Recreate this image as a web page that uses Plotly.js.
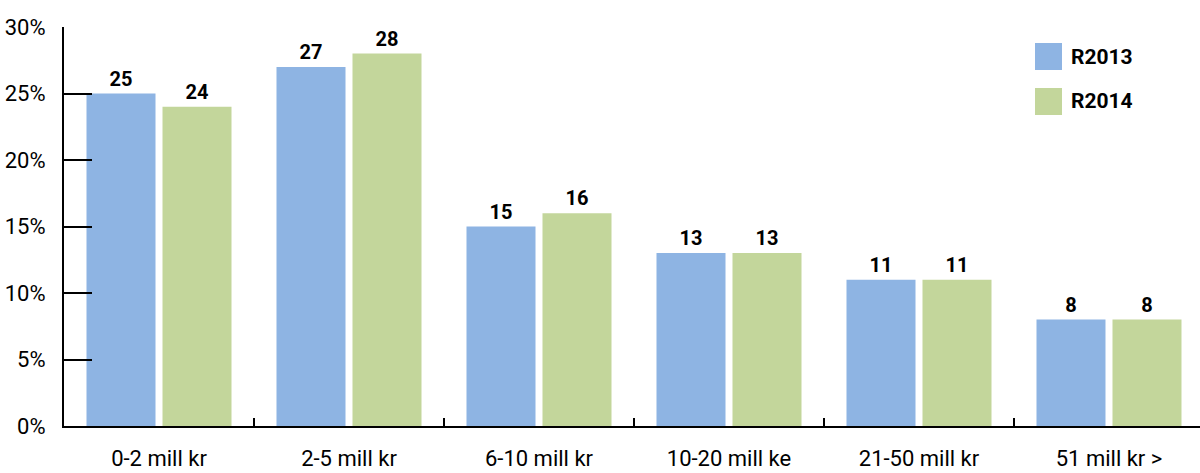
<!DOCTYPE html>
<html><head><meta charset="utf-8">
<script src="https://cdn.plot.ly/plotly-3.0.1.min.js"></script>
<style>html,body{margin:0;padding:0;background:#fff}#chart{width:1200px;height:473px}</style>
</head><body><div id="chart"></div>
<script>
const categories = ["0-2 mill kr","2-5 mill kr","6-10 mill kr","10-20 mill ke","21-50 mill kr","51 mill kr >"];
const seriesNames = ["R2013","R2014"];
const r2013 = [25,27,15,13,11,8];
const r2014 = [24,28,16,13,11,8];
const yTickVals = [0,5,10,15,20,25,30];
const yTickText = ["0%","5%","10%","15%","20%","25%","30%"];
const colors = ["#8EB4E3","#C3D69B"];

const FONT = "Roboto, 'Liberation Sans', sans-serif";

const traces = [r2013, r2014].map((vals,i)=>({
  type:'bar', x:categories, y:vals, name:seriesNames[i],
  marker:{color:colors[i]},
  text: vals.map(String), textposition:'outside', cliponaxis:false,
  textfont:{family:FONT, size:20, color:'#000', weight:'bold'},
  showlegend:false, hoverinfo:'skip'
}));

const shapes = [], annotations = [];
seriesNames.forEach((n,i)=>{
  const y0 = 43 + i*45;
  shapes.push({type:'rect', xref:'paper', yref:'paper',
    x0:(1035-64)/1136, x1:(1062-64)/1136,
    y0:(426-(y0+27))/399, y1:(426-y0)/399,
    fillcolor:colors[i], line:{width:0}});
  annotations.push({xref:'paper', yref:'paper', x:(1069-64)/1136, y:(426-(y0+13.5))/399,
    xanchor:'left', yanchor:'middle', text:n, showarrow:false,
    font:{family:FONT, size:21, color:'#000', weight:'bold'}});
});

const layout = {
  width:1200, height:473,
  margin:{l:64, r:0, t:27, b:47},
  paper_bgcolor:'#fff', plot_bgcolor:'#fff',
  barmode:'group', bargap:0.2, bargroupgap:0.092,
  font:{family:FONT, size:22, color:'#000'},
  xaxis:{type:'category', range:[-0.5,5.479], showgrid:false, zeroline:false,
    showline:true, linecolor:'#000', linewidth:2,
    ticks:'inside', tickson:'boundaries', ticklen:8, tickwidth:2, tickcolor:'#000',
    tickfont:{family:FONT, size:22, color:'#000'}, ticklabelstandoff:12},
  yaxis:{range:[0,30], tickvals:yTickVals, ticktext:yTickText, showgrid:false, zeroline:false,
    showline:true, linecolor:'#000', linewidth:2,
    ticks:'inside', ticklen:28, tickwidth:2, tickcolor:'#000',
    tickfont:{family:FONT, size:22, color:'#000'}, ticklabelstandoff:12},
  shapes, annotations
};
Plotly.newPlot('chart', traces, layout, {displayModeBar:false, staticPlot:true});
</script></body></html>
